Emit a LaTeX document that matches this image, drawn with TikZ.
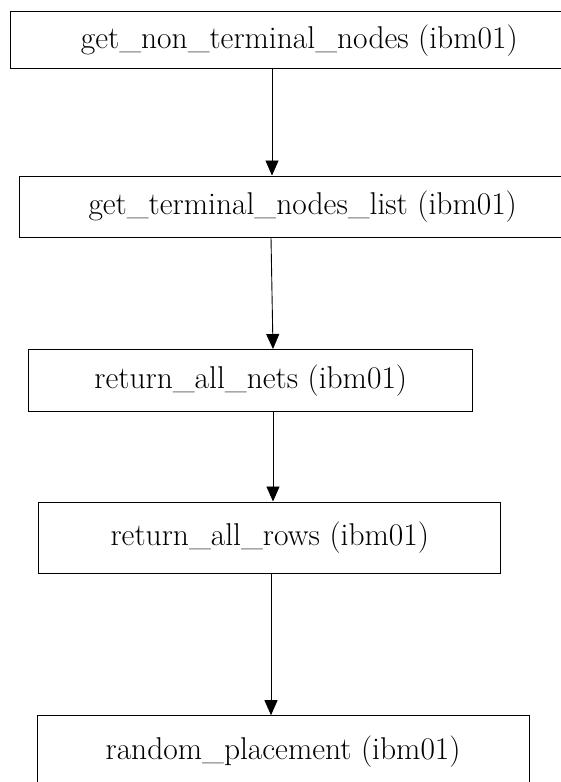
\documentclass[tikz,border=0pt]{standalone}
\usepackage{tikz}
\usetikzlibrary{arrows.meta}

\tikzset{
  fn/.style={draw, rectangle, line width=1pt, inner sep=0pt, font=\fontsize{31.5}{36}\selectfont},
  arr/.style={-{Triangle[length=15pt,width=13pt]}, line width=0.9pt}
}

\begin{document}
\begin{tikzpicture}[x=1pt, y=-1pt]
\useasboundingbox (0,0) rectangle (561,782);

\node[fn, minimum width=577pt, minimum height=57pt] at (299.3,40.3) (n1) {get\_non\_terminal\_nodes (ibm01)};
\node[fn, minimum width=566pt, minimum height=61pt] at (302.7,206.5) (n2) {get\_terminal\_nodes\_list (ibm01)};
\node[fn, minimum width=444pt, minimum height=62pt] at (250.8,380.5) (n3) {return\_all\_nets (ibm01)};
\node[fn, minimum width=462pt, minimum height=71pt] at (269.8,537.5) (n4) {return\_all\_rows (ibm01)};
\node[fn, minimum width=492pt, minimum height=72pt] at (283.1,751.7) (n5) {random\_placement (ibm01)};

% x positions of the connectors
\coordinate (a1) at (272,0);
\coordinate (a2) at (271,0);
\coordinate (a3) at (273,0);

\draw[arr] (n1.south -| a1) -- (n2.north -| a1);
\draw[arr] (n2.south -| a2) -- (n3.north -| a3);
\draw[arr] (n3.south -| a3) -- (n4.north -| a3);
\draw[arr] (n4.south -| a2) -- (n5.north -| a2);

\end{tikzpicture}
\end{document}
